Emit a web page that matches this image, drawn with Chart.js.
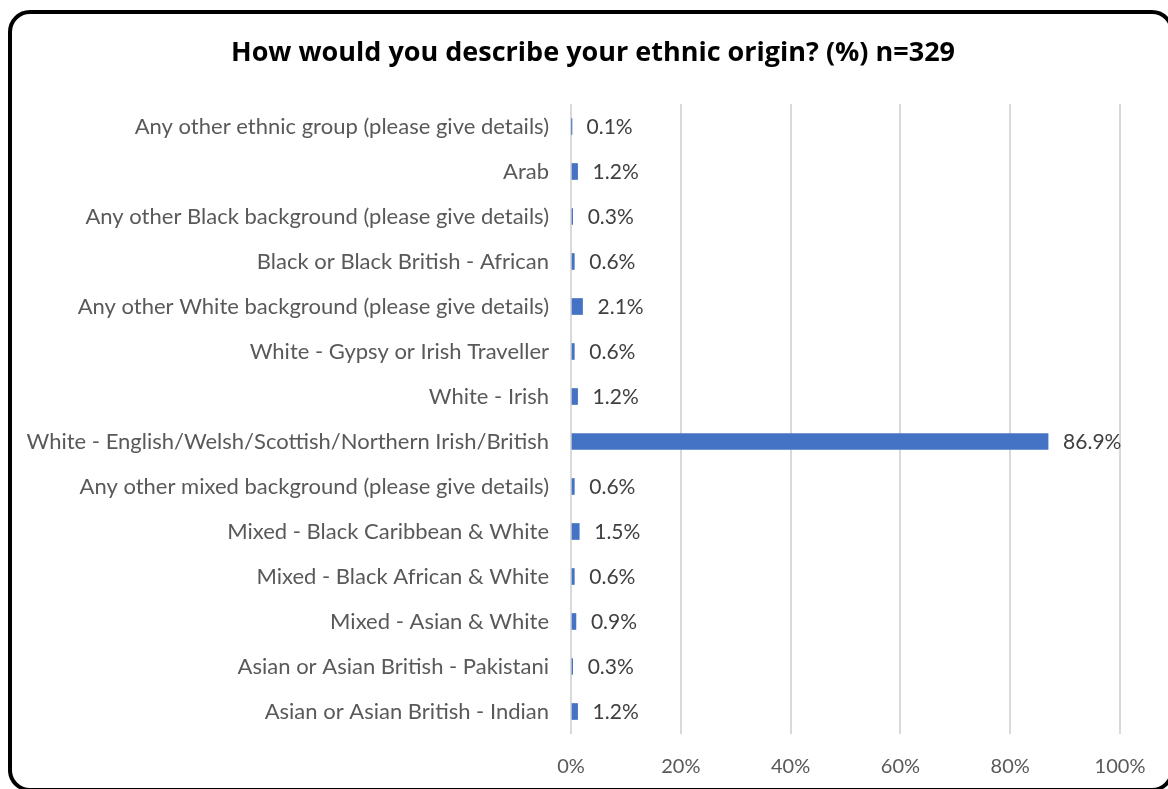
<!DOCTYPE html>
<html>
<head>
<meta charset="utf-8">
<script src="https://cdn.jsdelivr.net/npm/chart.js@4/dist/chart.umd.min.js"></script>
<style>
    html, body { margin: 0; padding: 0; background: #fff; overflow: hidden; }
    #wrap { position: relative; width: 1168px; height: 789px; }
    #chart { display: block; }
    #frame {
        position: absolute; left: 8px; top: 10px;
        width: 1166px; height: 782px; box-sizing: border-box;
        border: 4px solid #000; border-radius: 22px; pointer-events: none;
    }
</style>
</head>
<body>
<div id="wrap">
    <canvas id="chart" width="1168" height="789"></canvas>
    <div id="frame"></div>
</div>
<script>
// dados do grafico
const chartTitle = 'How would you describe your ethnic origin? (%) n=329';
const categories = [
    'Any other ethnic group (please give details)',
    'Arab',
    'Any other Black background (please give details)',
    'Black or Black British - African',
    'Any other White background (please give details)',
    'White - Gypsy or Irish Traveller',
    'White - Irish',
    'White - English/Welsh/Scottish/Northern Irish/British',
    'Any other mixed background (please give details)',
    'Mixed - Black Caribbean & White',
    'Mixed - Black African & White',
    'Mixed - Asian & White',
    'Asian or Asian British - Pakistani',
    'Asian or Asian British - Indian'
];
const percentValues = [0.1, 1.2, 0.3, 0.6, 2.1, 0.6, 1.2, 86.9, 0.6, 1.5, 0.6, 0.9, 0.3, 1.2];
const xTicks = [0, 20, 40, 60, 80, 100];

const FONT = 'Lato, "Open Sans", sans-serif';

// rotulos de valor ao lado das barras + titulo
const valueLabels = {
    id: 'valueLabels',
    afterDatasetsDraw(chart) {
        const ctx = chart.ctx;
        const meta = chart.getDatasetMeta(0);
        ctx.save();
        ctx.font = '21px ' + FONT;
        ctx.fillStyle = '#404040';
        ctx.textAlign = 'left';
        ctx.textBaseline = 'middle';
        meta.data.forEach((bar, i) => {
            ctx.fillText(percentValues[i].toFixed(1) + '%', bar.x + 15, bar.y + 1);
        });
        ctx.restore();
    },
    afterDraw(chart) {
        // titulo centrado como no original (um pouco a direita do centro)
        const ctx = chart.ctx;
        ctx.save();
        ctx.font = 'bold 27px "Open Sans", sans-serif';
        ctx.fillStyle = '#000';
        ctx.textAlign = 'center';
        ctx.textBaseline = 'middle';
        ctx.fillText(chartTitle, 593, 53);
        ctx.restore();
    }
};

const ctx = document.getElementById('chart').getContext('2d');
new Chart(ctx, {
    type: 'bar',
    data: {
        labels: categories,
        datasets: [{
            data: percentValues,
            backgroundColor: '#4472c4',
            barThickness: 16
        }]
    },
    options: {
        indexAxis: 'y',
        responsive: false,
        animation: false,
        layout: { padding: { left: 0, right: 48, top: 104, bottom: 11 } },
        plugins: {
            legend: { display: false },
            tooltip: { enabled: false },
            title: { display: false }
        },
        scales: {
            x: {
                min: 0,
                max: 100,
                afterBuildTicks(scale) {
                    scale.ticks = xTicks.map(v => ({ value: v }));
                },
                afterFit(scale) { scale.height = 44; },
                ticks: {
                    callback: v => v + '%',
                    color: '#595959',
                    font: { family: FONT, size: 20 },
                    padding: 21
                },
                grid: { color: '#d9d9d9', lineWidth: 2, drawTicks: false },
                border: { display: false }
            },
            y: {
                afterFit(scale) { scale.width = 571; },
                ticks: {
                    color: '#595959',
                    font: { family: FONT, size: 22 },
                    padding: 22,
                    autoSkip: false
                },
                grid: { display: false, drawTicks: false },
                border: { display: false }
            }
        }
    },
    plugins: [valueLabels]
});
</script>
</body>
</html>
